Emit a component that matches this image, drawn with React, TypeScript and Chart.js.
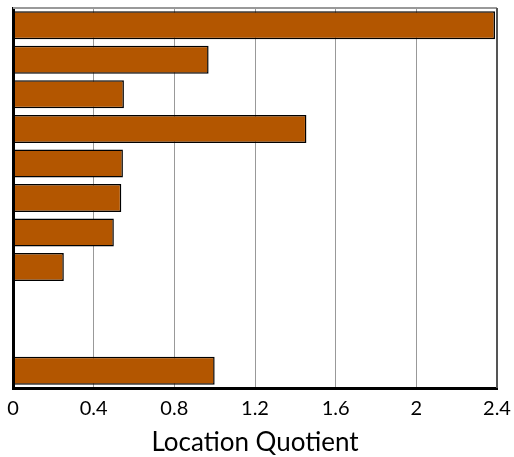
import React, { useEffect, useRef } from "react";
import { Chart, registerables } from "chart.js";

Chart.register(...registerables);

const categories: string[] = ["c1", "c2", "c3", "c4", "c5", "c6", "c7", "c8", "c9", "c10", "c11"];
const locationQuotient: (number | null)[] = [2.39, 0.97, 0.55, 1.455, 0.545, 0.537, 0.5, 0.252, null, null, 1.0];
const xTicks: number[] = [0, 0.4, 0.8, 1.2, 1.6, 2, 2.4];

const frame = {
  id: "frame",
  afterDatasetsDraw(chart: any) {
    const { ctx, chartArea } = chart;
    ctx.save();
    ctx.strokeStyle = "#999999";
    ctx.lineWidth = 2;
    ctx.beginPath();
    ctx.moveTo(chartArea.left, chartArea.top);
    ctx.lineTo(chartArea.right, chartArea.top);
    ctx.stroke();
    ctx.strokeStyle = "#555555";
    ctx.lineWidth = 2;
    ctx.beginPath();
    ctx.moveTo(chartArea.right, chartArea.top);
    ctx.lineTo(chartArea.right, chartArea.bottom);
    ctx.stroke();
    ctx.restore();
  },
};

export default function App() {
  const ref = useRef<HTMLCanvasElement>(null);
  useEffect(() => {
    if (!ref.current) return;
    const chart = new Chart(ref.current, {
      type: "bar",
      data: {
        labels: categories,
        datasets: [
          {
            data: locationQuotient,
            backgroundColor: "#B35600",
            borderColor: "#000000",
            borderWidth: 1.5,
            borderSkipped: false,
            barPercentage: 0.9,
            categoryPercentage: 0.9,
          },
        ],
      },
      options: {
        indexAxis: "y",
        responsive: false,
        animation: false,
        maintainAspectRatio: false,
        layout: { padding: { left: 13, top: 8, right: 17, bottom: 0 } },
        plugins: { legend: { display: false }, tooltip: { enabled: false } },
        scales: {
          x: {
            min: 0,
            max: 2.4,
            afterBuildTicks: (axis: any) => {
              axis.ticks = xTicks.map((v) => ({ value: v }));
            },
            afterFit: (axis: any) => {
              axis.paddingLeft = 0;
              axis.paddingRight = 0;
            },
            ticks: {
              color: "#000",
              font: { family: "Lato", size: 20, lineHeight: 1.2 },
              padding: 9,
              maxRotation: 0,
              callback: (v: any) => String(Math.round(Number(v) * 10) / 10),
            },
            grid: { color: "#999999", lineWidth: 1, drawTicks: false },
            border: { display: true, color: "#000", width: 3 },
            title: {
              display: true,
              text: "Location Quotient",
              color: "#000",
              font: { family: "Lato", size: 26, lineHeight: 1.0 },
              padding: { top: 0, bottom: 1 },
            },
          },
          y: {
            ticks: { display: false },
            grid: { display: false, drawTicks: false },
            border: { display: true, color: "#000", width: 3 },
          },
        },
      },
      plugins: [frame],
    });
    return () => chart.destroy();
  }, []);
  return (
    <div style={{ position: "absolute", left: 0, top: 0, width: 514, height: 457, background: "#fff" }}>
      <canvas ref={ref} width={514} height={457} style={{ display: "block" }} />
    </div>
  );
}
